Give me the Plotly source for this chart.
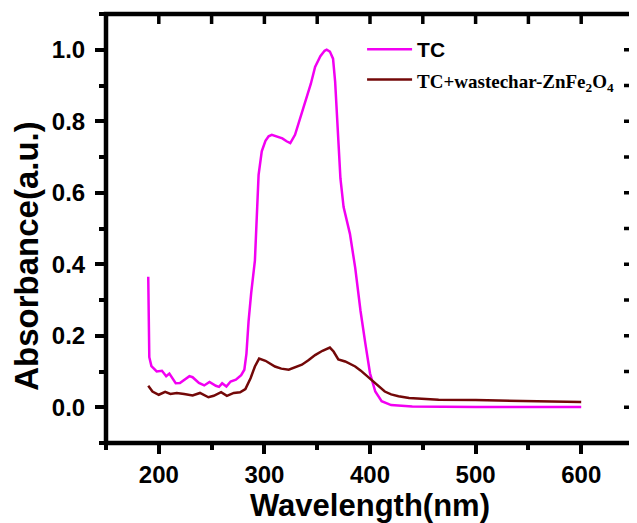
import plotly.graph_objects as go

# TC spectrum
tc_wl = [190, 191, 193, 198, 203, 207, 210, 216, 220, 225, 229, 232, 238, 243, 248, 254, 257, 260, 264, 268,
         273, 278, 281, 283, 285, 287.5, 291, 294.5, 297.5, 301, 304, 307, 312, 317, 321, 324.5, 329, 334, 339,
         344, 348, 353, 357, 359, 362, 365, 367, 369.5, 372, 375, 378, 381, 386, 391, 395.5, 400, 405, 411,
         420, 440, 500, 600]
tc_abs = [0.365, 0.14, 0.115, 0.10, 0.102, 0.087, 0.094, 0.067, 0.068, 0.08, 0.087, 0.084, 0.068, 0.061, 0.071,
          0.06, 0.057, 0.067, 0.058, 0.072, 0.077, 0.09, 0.105, 0.15, 0.24, 0.32, 0.41, 0.65, 0.716, 0.745,
          0.758, 0.762, 0.757, 0.752, 0.744, 0.739, 0.762, 0.81, 0.857, 0.905, 0.952, 0.982, 0.997, 1.0, 0.995,
          0.975, 0.91, 0.77, 0.64, 0.56, 0.525, 0.485, 0.39, 0.27, 0.18, 0.095, 0.044, 0.017, 0.006, 0.002,
          0.001, 0.001]

# TC + wastechar-ZnFe2O4 spectrum
mix_wl = [190, 194, 200, 206, 211, 217, 224, 232, 239, 247, 252, 259, 264.5, 271, 277, 282, 287, 291, 295, 301,
          310, 316, 323, 329, 335.5, 342, 348, 355, 362, 365.5, 370, 376.5, 381, 386, 391, 395.5, 400, 405,
          414, 420, 427, 437, 446, 465, 500, 534, 570, 600]
mix_abs = [0.06, 0.044, 0.035, 0.043, 0.037, 0.04, 0.037, 0.033, 0.04, 0.028, 0.032, 0.042, 0.032, 0.04, 0.042,
           0.051, 0.082, 0.114, 0.136, 0.13, 0.114, 0.108, 0.105, 0.111, 0.119, 0.132, 0.146, 0.158, 0.167,
           0.156, 0.134, 0.128, 0.122, 0.114, 0.103, 0.091, 0.08, 0.068, 0.044, 0.036, 0.031, 0.026, 0.024,
           0.021, 0.02, 0.019, 0.017, 0.015]

x_ticks = [200, 300, 400, 500, 600]
y_ticks = [0.0, 0.2, 0.4, 0.6, 0.8, 1.0]
x_range = [150, 650]
y_range = [-0.1, 1.1]
x_top_ticks = [200, 250, 300, 350, 400, 450, 500, 550, 600]
y_right_ticks = [0.0, 0.1, 0.2, 0.3, 0.4, 0.5, 0.6, 0.7, 0.8, 0.9, 1.0]

FONT = "Liberation Sans, Arial, sans-serif"
SERIF = "Liberation Serif, Times New Roman, serif"

W, H = 629, 515
M = dict(l=98, r=3, t=6, b=80)
plot_w = W - M["l"] - M["r"]
plot_h = H - M["t"] - M["b"]
IN_TICK = 10  # px, inward mirror ticks
INK = "#000000"

fig = go.Figure()
fig.add_trace(go.Scatter(x=tc_wl, y=tc_abs, mode="lines", name="<b>TC</b>",
                         line=dict(color="#F200F2", width=2.5)))
fig.add_trace(go.Scatter(
    x=mix_wl, y=mix_abs, mode="lines",
    name=f'<span style="font-family:{SERIF};font-size:19px"><b>TC+wastechar-ZnFe<sub>2</sub>O<sub>4</sub></b></span>',
    line=dict(color="#730808", width=2.5)))

shapes = [dict(type="rect", xref="paper", yref="paper", x0=0, x1=1, y0=0, y1=1,
               line=dict(color=INK, width=4.5), layer="above")]
for v in x_top_ticks:
    shapes.append(dict(type="line", xref="x", yref="paper", x0=v, x1=v, y0=1, y1=1 - IN_TICK / plot_h,
                       line=dict(color=INK, width=3.5), layer="above"))
for v in y_right_ticks:
    shapes.append(dict(type="line", xref="paper", yref="y", x0=1, x1=1 - IN_TICK / plot_w, y0=v, y1=v,
                       line=dict(color=INK, width=3.5), layer="above"))

fig.update_layout(
    width=W, height=H,
    margin=M,
    paper_bgcolor="white", plot_bgcolor="rgba(0,0,0,0)",
    font=dict(family=FONT, color=INK),
    showlegend=True,
    legend=dict(x=0.485, y=0.965, xanchor="left", yanchor="top",
                bgcolor="rgba(0,0,0,0)", font=dict(size=21, family=FONT, color=INK),
                itemwidth=45, tracegroupgap=0),
    xaxis=dict(range=x_range, tickvals=x_ticks, ticks="outside", ticklen=10, tickwidth=3.5, tickcolor=INK,
               showline=False, showgrid=False, zeroline=False, ticklabelstandoff=0,
               tickfont=dict(size=24, family=FONT, color=INK, weight="bold"),
               title=dict(text="<b>Wavelength(nm)</b>", font=dict(size=31, family=FONT), standoff=4),
               minor=dict(dtick=50, ticks="outside", ticklen=6, tickwidth=3.5, tickcolor=INK)),
    yaxis=dict(range=y_range, tickvals=y_ticks, tickformat=".1f", ticks="outside", ticklen=10, tickwidth=3.5,
               tickcolor=INK, showline=False, showgrid=False, zeroline=False, ticklabelstandoff=5,
               tickfont=dict(size=24, family=FONT, color=INK, weight="bold"),
               title=dict(text="<b>Absorbance(a.u.)</b>" + "&nbsp;" * 6, font=dict(size=33, family=FONT),
                          standoff=10),
               minor=dict(dtick=0.1, ticks="outside", ticklen=6, tickwidth=3.5, tickcolor=INK)),
    shapes=shapes,
)

fig.write_html("out.html")
